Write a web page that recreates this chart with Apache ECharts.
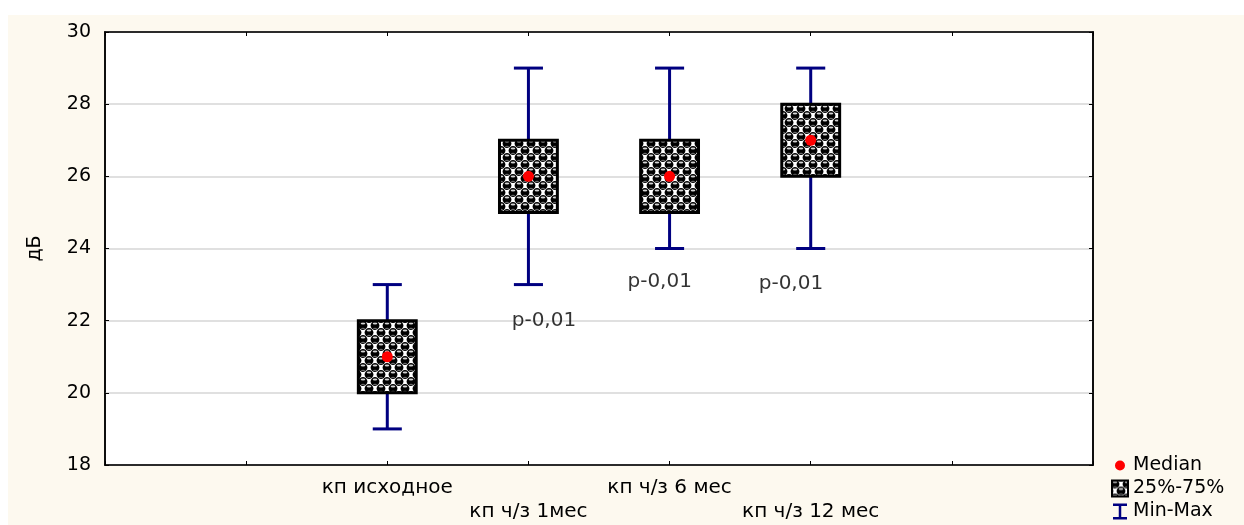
<!DOCTYPE html>
<html>
<head>
<meta charset="utf-8">
<script src="https://cdn.jsdelivr.net/npm/echarts@6/dist/echarts.min.js"></script>
<style>html,body{margin:0;padding:0;background:#fff;}#c{width:1244px;height:525px;}</style>
</head>
<body>
<div id="c"></div>
<script>
// ---- data ----
const categories = ['кп исходное', 'кп ч/з 1мес', 'кп ч/з 6 мес', 'кп ч/з 12 мес'];
const xPositions = [2, 3, 4, 5];
const minValues = [19, 23, 24, 24];
const q1Values = [20, 25, 25, 26];
const medianValues = [21, 26, 26, 27];
const q3Values = [22, 27, 27, 28];
const maxValues = [23, 29, 29, 29];
const pLabels = ['p-0,01', 'p-0,01', 'p-0,01'];
const pLabelX = [3.11, 3.93, 4.86];
const pLabelY = [22.0, 23.07, 23.02];
const yTicks = { min: 18, max: 30, interval: 2 };

// ---- pattern for the boxes ----
function makePattern() {
  const W = 12, H = 14;
  const c = document.createElement('canvas');
  c.width = W; c.height = H;
  const g = c.getContext('2d');
  g.fillStyle = '#ffffff';
  g.fillRect(0, 0, W, H);
  const base = [[W / 4, H / 4], [3 * W / 4, 3 * H / 4]];
  const balls = [];
  base.forEach(([x, y]) => { for (let dx = -1; dx <= 1; dx++) for (let dy = -1; dy <= 1; dy++) balls.push([x + dx * W, y + dy * H]); });
  balls.forEach(([x, y]) => {
    g.beginPath(); g.arc(x, y, 4.4, 0, Math.PI * 2); g.fillStyle = '#000'; g.fill();
  });
  balls.forEach(([x, y]) => {
    g.beginPath(); g.ellipse(x, y - 1.9, 2.3, 1.0, 0, 0, Math.PI * 2); g.fillStyle = '#d4d4d4'; g.fill();
    g.beginPath(); g.ellipse(x, y + 2.9, 2.0, 0.7, 0, 0, Math.PI * 2); g.fillStyle = '#6a6a6a'; g.fill();
  });
  return { image: c, repeat: 'repeat' };
}
const pattern = makePattern();

const whiskerData = xPositions.map((x, i) => [x, minValues[i], maxValues[i]]);
const boxData = xPositions.map((x, i) => [x, q1Values[i], q3Values[i]]);
const medianData = xPositions.map((x, i) => [x, medianValues[i]]);
const pData = pLabels.map((t, i) => ({ value: [pLabelX[i], pLabelY[i]], name: t }));

const FONT = 'DejaVu Sans';
const chart = echarts.init(document.getElementById('c'), null, { renderer: 'canvas' });
chart.setOption({
  backgroundColor: '#FDF9EF',
  animation: false,
  textStyle: { fontFamily: FONT },
  graphic: [
    { type: 'rect', shape: { x: 0, y: 0, width: 1244, height: 15 }, style: { fill: '#ffffff' }, silent: true },
    { type: 'rect', shape: { x: 0, y: 0, width: 8, height: 525 }, style: { fill: '#ffffff' }, silent: true }
  ],
  grid: { left: 105, right: 151, top: 32, bottom: 60, show: true, backgroundColor: '#ffffff', borderColor: '#000', borderWidth: 1.5 },
  legend: {
    orient: 'vertical', left: 1111, top: 456, height: 90, padding: 0, itemWidth: 16, itemHeight: 16, itemGap: 4,
    textStyle: { fontSize: 19, lineHeight: 16, color: '#000', fontFamily: FONT }, selectedMode: false,
    data: [
      { name: 'Median', icon: 'path://M0,0 M16,16 M8,3 A5,5 0 1 1 7.99,3 Z', itemStyle: { color: '#ff0000' } },
      { name: '25%-75%', icon: 'rect', itemStyle: { color: pattern, borderColor: '#000', borderWidth: 2 } },
      { name: 'Min-Max', icon: 'path://M0,0h14v2.5h-5.75v11h5.75v2.5h-14v-2.5h5.75v-11h-5.75z', itemStyle: { color: '#000080' } }
    ]
  },
  xAxis: [{
    type: 'value', min: 0, max: 7, interval: 1, position: 'bottom',
    axisLine: { show: true, onZero: false, lineStyle: { color: '#000', width: 1.5 } },
    axisTick: { show: true, inside: true, length: 4, lineStyle: { color: '#000' } },
    splitLine: { show: false },
    axisLabel: {
      fontSize: 20, color: '#000', fontFamily: FONT, margin: 11, lineHeight: 24,
      formatter: v => { const i = xPositions.indexOf(v); return i < 0 ? '' : (i % 2 ? '\n' : '') + categories[i]; }
    }
  }, {
    type: 'value', min: 0, max: 7, interval: 1, position: 'top',
    axisLine: { show: true, onZero: false, lineStyle: { color: '#000', width: 1.5 } },
    axisTick: { show: true, inside: true, length: 4, lineStyle: { color: '#000' } },
    axisLabel: { show: false }, splitLine: { show: false }
  }],
  yAxis: [{
    type: 'value', min: yTicks.min, max: yTicks.max, interval: yTicks.interval, position: 'left',
    name: 'дБ', nameLocation: 'middle', nameGap: 60, nameRotate: 90,
    nameTextStyle: { fontSize: 19, color: '#000', fontFamily: FONT },
    axisLine: { show: true, onZero: false, lineStyle: { color: '#000', width: 1.5 } },
    axisTick: { show: true, inside: true, length: 4, lineStyle: { color: '#000' } },
    axisLabel: { fontSize: 19, color: '#000', fontFamily: FONT, margin: 14 },
    splitLine: { show: true, lineStyle: { color: '#d6d6d6', width: 1.5 } }
  }, {
    type: 'value', min: yTicks.min, max: yTicks.max, interval: yTicks.interval, position: 'right',
    axisLine: { show: true, onZero: false, lineStyle: { color: '#000', width: 1.5 } },
    axisTick: { show: true, inside: true, length: 4, lineStyle: { color: '#000' } },
    axisLabel: { show: false }, splitLine: { show: false }
  }],
  series: [
    {
      name: 'Min-Max', type: 'custom', data: whiskerData, z: 2,
      itemStyle: { color: '#000080' },
      encode: { x: 0, y: [1, 2] },
      renderItem: (params, api) => {
        const x = api.value(0);
        const pLo = api.coord([x, api.value(1)]);
        const pHi = api.coord([x, api.value(2)]);
        const half = api.size([0.103, 0])[0];
        const st = { stroke: '#000080', lineWidth: 3, fill: null };
        return { type: 'group', children: [
          { type: 'line', shape: { x1: pLo[0], y1: pLo[1], x2: pHi[0], y2: pHi[1] }, style: st },
          { type: 'line', shape: { x1: pLo[0] - half, y1: pLo[1], x2: pLo[0] + half, y2: pLo[1] }, style: st },
          { type: 'line', shape: { x1: pHi[0] - half, y1: pHi[1], x2: pHi[0] + half, y2: pHi[1] }, style: st }
        ] };
      }
    },
    {
      name: '25%-75%', type: 'custom', data: boxData, z: 3,
      itemStyle: { color: '#000' },
      encode: { x: 0, y: [1, 2] },
      renderItem: (params, api) => {
        const x = api.value(0);
        const pLo = api.coord([x, api.value(1)]);
        const pHi = api.coord([x, api.value(2)]);
        const w = api.size([0.41, 0])[0];
        return { type: 'rect', shape: { x: pLo[0] - w / 2, y: pHi[1], width: w, height: pLo[1] - pHi[1] },
          style: { fill: pattern, stroke: '#000', lineWidth: 3 } };
      }
    },
    {
      name: 'Median', type: 'scatter', data: medianData, z: 4,
      symbol: 'circle', symbolSize: 11, itemStyle: { color: '#ff0000', opacity: 1 }
    },
    {
      name: 'p', type: 'scatter', data: pData, z: 5, symbolSize: 0, silent: true,
      label: { show: true, position: 'inside', formatter: p => p.name, fontSize: 20, color: '#000', fontFamily: FONT }
    }
  ]
});
</script>
</body>
</html>
